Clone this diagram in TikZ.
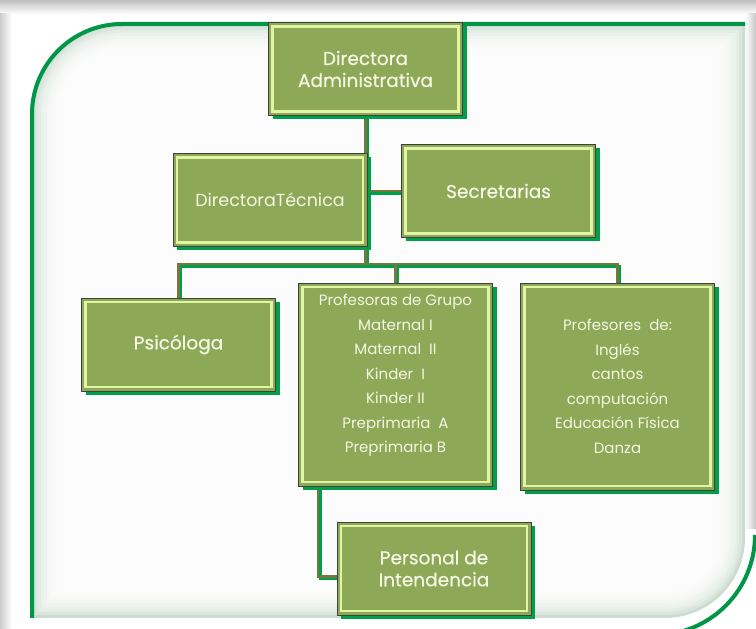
\documentclass[tikz,border=0pt]{standalone}
\usepackage{fontspec}
\setmainfont{Poppins}
\newfontfamily\titlefont{Poppins}[FakeBold=0.6]
\usepackage{tikz}
\usetikzlibrary{shadows,positioning}
\pgfdeclarelayer{back}
\pgfdeclarelayer{links}
\pgfsetlayers{back,links,main}
\definecolor{boxgreen}{RGB}{141,168,86}
\definecolor{bevelgreen}{RGB}{224,246,162}
\definecolor{linkolive}{RGB}{118,118,62}
\definecolor{linkgreen}{RGB}{0,160,75}
\definecolor{framegreen}{RGB}{0,150,70}
\definecolor{boxtext}{RGB}{246,246,228}
\definecolor{glow}{RGB}{204,220,208}

\begin{document}
\begin{tikzpicture}[x=1pt,y=1pt,
	box/.style={draw=black!75,line width=0.8pt,fill=boxgreen,text=boxtext,align=center,
		minimum width=194pt,minimum height=93pt,inner sep=0pt,
		drop shadow={shadow xshift=4pt,shadow yshift=-4pt,fill=linkgreen,opacity=1},
		path picture={\draw[bevelgreen,line width=2.4pt]
			([shift={(4pt,-4pt)}]path picture bounding box.north west) rectangle
			([shift={(-4pt,4pt)}]path picture bounding box.south east);}},
	title/.style={font=\titlefont\fontsize{18.5}{22}\selectfont},
	list/.style={font=\fontsize{15}{24.5}\selectfont,align=center,text=boxtext},
	link/.style={line width=2.4pt}]
  \useasboundingbox (0,0) rectangle (756,629);

  \node[box,title] (da)  at (365.5,560) {Directora\\Administrativa};
  \node[box,font=\fontsize{17.5}{20}\selectfont] (dt) at (270,429) {DirectoraTécnica};
  \node[box,title] (sec) at (498.5,438) {Secretarias};
  \node[box,title] (psi) at (178.5,284.5) {Psicóloga};
  \node[box,minimum height=203pt] (pg) at (395.5,244.5) {};
  \node[list] (pgtext) at ([yshift=9pt]pg.center) {Profesoras de Grupo\\Maternal I\\Maternal\ \ II\\Kinder\ \ I\\Kinder II\\Preprimaria\ \ A\\Preprimaria B};
  \node[box,list,minimum height=207pt] (pd) at (617.5,242.5) {Profesores\ \ de:\\Inglés\\cantos\\computación\\Educación Física\\Danza};
  \node[box,title] (per) at (434,60.5) {Personal de\\Intendencia};
  \coordinate (bus) at (0,365);

  \begin{pgfonlayer}{links}
  \foreach \c/\s in {linkgreen/2.5pt,linkolive/0pt}{
    \begin{scope}[link,draw=\c,transform canvas={shift={(\s,-\s)}}]
      \draw (da.south) -- (da.south |- bus);
      \draw (sec.west) -- (sec.west -| da.south);
      \draw (psi.north) |- (bus -| pd.north) -- (pd.north);
      \draw (bus -| pg.north) -- (pg.north);
      \draw ([xshift=20pt]pg.south west) |- ([yshift=-8pt]per.west);
    \end{scope}
  }
  \end{pgfonlayer}

  \begin{pgfonlayer}{back}
  \shade[top color=black!25,bottom color=white] (0,615) rectangle (756,629);
  \shade[left color=black!20,right color=white] (0,0) rectangle (12,615);
  \shade[left color=white,right color=black!22] (745,100) rectangle (756,615);
  \fill[glow] (32,11) -- (32,515) arc[start angle=180,end angle=90,radius=90] -- (745,605) -- (745,91) arc[start angle=0,end angle=-90,radius=80] -- cycle;
  \foreach \d in {3,6,...,27}
    \fill[white,opacity=0.28] (32+\d,11+\d) -- (32+\d,515) arc[start angle=180,end angle=90,radius=90-\d] -- (745-\d,605-\d) -- (745-\d,91) arc[start angle=0,end angle=-90,radius=80-\d] -- cycle;
  \draw[framegreen,line width=4pt] (32,11) -- (32,515) arc[start angle=180,end angle=90,radius=90] -- (745,605);
  \draw[framegreen,line width=4pt] (755,94) arc[start angle=0,end angle=-90,radius=100];
  \end{pgfonlayer}
\end{tikzpicture}
\end{document}
